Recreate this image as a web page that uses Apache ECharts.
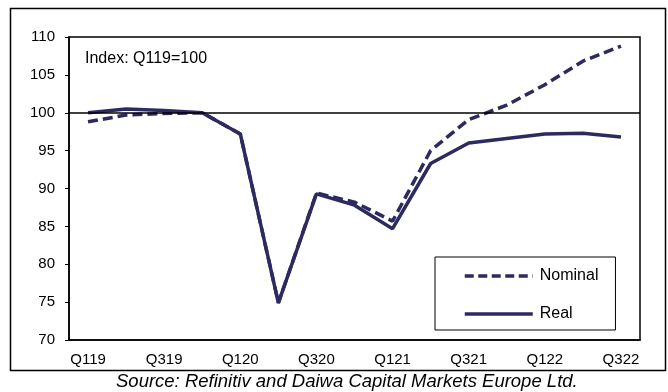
<!DOCTYPE html>
<html><head><meta charset="utf-8">
<script src="https://cdn.jsdelivr.net/npm/echarts@6/dist/echarts.min.js"></script>
<style>html,body{margin:0;padding:0;background:#fff}#c{width:668px;height:392px}</style>
</head><body><div id="c"></div>
<script>
const categories = ['Q119','Q219','Q319','Q419','Q120','Q220','Q320','Q420','Q121','Q221','Q321','Q421','Q122','Q222','Q322'];
const nominal = [98.8, 99.7, 99.9, 100.0, 97.2, 74.9, 89.4, 88.2, 85.7, 95.0, 99.1, 101.0, 103.7, 106.8, 108.8];
const real    = [100.0, 100.5, 100.3, 100.0, 97.2, 74.9, 89.3, 87.8, 84.7, 93.3, 96.0, 96.6, 97.2, 97.3, 96.8];
const yTicks = {min: 70, max: 110, interval: 5};
const note = 'Index: Q119=100';
const source = 'Source: Refinitiv and Daiwa Capital Markets Europe Ltd.';

const col = '#2d2a60';
const font = 'Liberation Sans, Arial, sans-serif';
const chart = echarts.init(document.getElementById('c'), null, {renderer: 'canvas'});
chart.setOption({
  animation: false,
  backgroundColor: '#fff',
  grid: {left: 69, right: 28, top: 37, bottom: 52, show: true, borderColor: '#000', borderWidth: 1.5},
  graphic: [
    {type: 'rect', shape: {x: 10.5, y: 8.5, width: 655, height: 362}, style: {fill: 'none', stroke: '#000', lineWidth: 1.5}, z: -1},
    {type: 'text', left: 85, top: 51, style: {text: note, font: '16px ' + font, fill: '#000'}},
    {type: 'text', left: 116, top: 372, style: {text: source, font: 'italic 18.5px ' + font, fill: '#000'}}
  ],
  legend: {
    orient: 'vertical', left: 435, top: 257,
    padding: [11, 17, 8, 28], itemGap: 22, itemWidth: 68, itemHeight: 14,
    borderColor: '#000', borderWidth: 1, backgroundColor: '#fff',
    itemStyle: {color: 'rgba(0,0,0,0)', borderWidth: 0, opacity: 0},
    textStyle: {fontFamily: font, fontSize: 16, color: '#000', padding: [0, 0, 0, 2]},
    data: [
      {name: 'Nominal', lineStyle: {width: 3.5, color: col, type: [9, 4.5]}},
      {name: 'Real', lineStyle: {width: 3.5, color: col, type: 'solid'}}
    ]
  },
  xAxis: {
    type: 'category', data: categories, boundaryGap: true,
    axisLine: {show: true, lineStyle: {color: '#000', width: 1.5}},
    axisTick: {show: false},
    axisLabel: {interval: 1, color: '#000', fontFamily: font, fontSize: 15, margin: 12}
  },
  yAxis: {
    type: 'value', min: yTicks.min, max: yTicks.max, interval: yTicks.interval,
    axisLine: {show: true, lineStyle: {color: '#000', width: 1.5}},
    axisTick: {show: true, length: 4, lineStyle: {color: '#000'}},
    splitLine: {show: false},
    axisLabel: {color: '#000', fontFamily: font, fontSize: 15, margin: 14}
  },
  series: [
    {name: 'Nominal', type: 'line', data: nominal, symbol: 'none', z: 3,
     lineStyle: {color: col, width: 3.5, type: [10, 5]}, itemStyle: {color: col},
     markLine: {silent: true, symbol: 'none', label: {show: false},
       lineStyle: {color: '#000', width: 1.5, type: 'solid'}, data: [{yAxis: 100}]}},
    {name: 'Real', type: 'line', data: real, symbol: 'none', z: 4,
     lineStyle: {color: col, width: 3.5, type: 'solid'}, itemStyle: {color: col}}
  ]
});
</script></body></html>
